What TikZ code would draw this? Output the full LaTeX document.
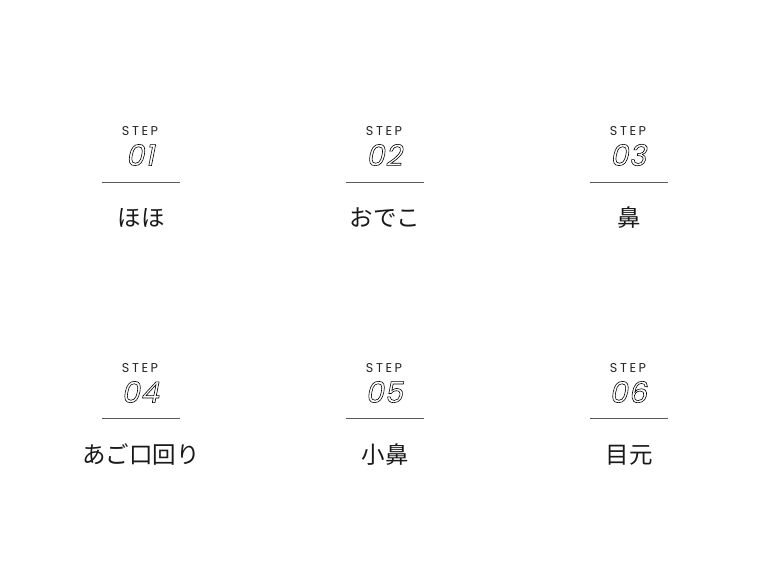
\documentclass[tikz,border=0pt]{standalone}
\usepackage{fontspec}
\setmainfont{Poppins}
\newfontfamily\stepfont[LetterSpace=20]{Poppins}
\newfontfamily\numfont[FakeSlant=0.2,LetterSpace=3]{Poppins}
\newfontfamily\jpfont{Noto Sans CJK JP}
\tikzset{
  steplabel/.style={inner sep=0pt, font=\stepfont\fontsize{12.8}{12.8}\selectfont, text=black!85},
  numlabel/.style={inner sep=0pt, font=\numfont\fontsize{29}{29}\selectfont},
  titlelabel/.style={inner sep=0pt, font=\jpfont\fontsize{23.5}{23.5}\selectfont, text=black!90},
  rule/.style={draw=black!65, line width=0.9pt}
}
\newcommand{\outl}[1]{\special{pdf:literal direct 1 Tr 0.6 w}#1\special{pdf:literal direct 0 Tr}}
\begin{document}
\begin{tikzpicture}[x=1pt,y=-1pt]
\useasboundingbox[fill=white] (0,0) rectangle (768,574);
% row 1
\node[steplabel] (s1) at (140,131) {STEP};
\node[numlabel] (n1) at (140,155) {\outl{01}};
\coordinate (l1a) at (102,182); \coordinate (l1b) at (180,182);
\draw[rule] (l1a) -- (l1b);
\node[titlelabel] (t1) at (141,218) {ほほ};
\node[steplabel] (s2) at (384,131) {STEP};
\node[numlabel] (n2) at (384,155) {\outl{02}};
\coordinate (l2a) at (346,182); \coordinate (l2b) at (424,182);
\draw[rule] (l2a) -- (l2b);
\node[titlelabel] (t2) at (385,218) {おでこ};
\node[steplabel] (s3) at (628,131) {STEP};
\node[numlabel] (n3) at (628,155) {\outl{03}};
\coordinate (l3a) at (590,182); \coordinate (l3b) at (668,182);
\draw[rule] (l3a) -- (l3b);
\node[titlelabel] (t3) at (629,218) {鼻};
% row 2
\node[steplabel] (s4) at (140,368) {STEP};
\node[numlabel] (n4) at (140,392) {\outl{04}};
\coordinate (l4a) at (102,418); \coordinate (l4b) at (180,418);
\draw[rule] (l4a) -- (l4b);
\node[titlelabel] (t4) at (141,455) {あご口回り};
\node[steplabel] (s5) at (384,368) {STEP};
\node[numlabel] (n5) at (384,392) {\outl{05}};
\coordinate (l5a) at (346,418); \coordinate (l5b) at (424,418);
\draw[rule] (l5a) -- (l5b);
\node[titlelabel] (t5) at (385,455) {小鼻};
\node[steplabel] (s6) at (628,368) {STEP};
\node[numlabel] (n6) at (628,392) {\outl{06}};
\coordinate (l6a) at (590,418); \coordinate (l6b) at (668,418);
\draw[rule] (l6a) -- (l6b);
\node[titlelabel] (t6) at (629,455) {目元};
\end{tikzpicture}
\end{document}
